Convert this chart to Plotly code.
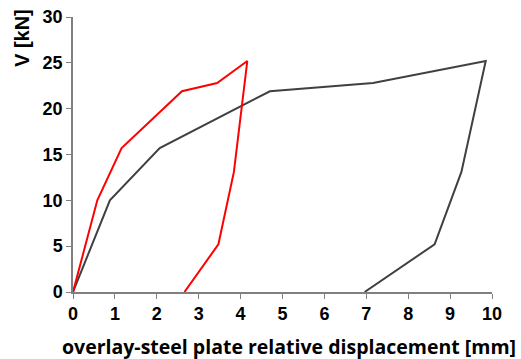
import plotly.graph_objects as go

red_x = [0, 0.58, 1.16, 2.60, 3.44, 4.16, 3.84, 3.47, 2.66]
red_y = [0, 10.0, 15.7, 21.9, 22.8, 25.2, 13.1, 5.2, 0]
gray_x = [0, 0.88, 2.07, 4.70, 7.16, 9.85, 9.27, 8.63, 6.96]
gray_y = [0, 10.0, 15.7, 21.9, 22.8, 25.2, 13.1, 5.2, 0]

x_ticks = list(range(0, 11))
y_ticks = [0, 5, 10, 15, 20, 25, 30]

fig = go.Figure()
fig.add_trace(go.Scatter(x=gray_x, y=gray_y, mode="lines",
                         line=dict(color="#404040", width=2), showlegend=False))
fig.add_trace(go.Scatter(x=red_x, y=red_y, mode="lines",
                         line=dict(color="#ff0000", width=2), showlegend=False))

tickfont = dict(family="Liberation Sans", size=18, color="#000000")
fig.update_layout(
    width=521, height=359,
    margin=dict(l=73, r=29, t=17, b=67),
    plot_bgcolor="white", paper_bgcolor="white",
    xaxis=dict(range=[0, 10], tickvals=x_ticks, ticktext=[f"<b>{v}</b>" for v in x_ticks],
               showgrid=False, zeroline=False, showline=True, linecolor="#808080", linewidth=1.5,
               ticks="outside", ticklen=5, tickcolor="#808080", tickfont=tickfont,
               automargin=False, ticklabeloverflow="allow"),
    yaxis=dict(range=[0, 30], tickvals=y_ticks, ticktext=[f"<b>{v}</b>" for v in y_ticks],
               showgrid=False, zeroline=False, showline=True, linecolor="#808080", linewidth=1.5,
               ticks="outside", ticklen=5, tickcolor="#808080", tickfont=tickfont,
               automargin=False, ticklabeloverflow="allow"),
    annotations=[
        dict(text="<b>overlay-steel plate relative displacement [mm]</b>", xref="paper", yref="paper",
             x=0.5, y=0, yshift=-54, xshift=6, xanchor="center", yanchor="middle", showarrow=False,
             font=dict(family="Open Sans", size=19.5, color="#000000")),
        dict(text="<b>V [kN]</b>", xref="paper", yref="paper", x=0, y=1, xshift=-51, yshift=-21,
             xanchor="center", yanchor="middle", textangle=-90, showarrow=False,
             font=dict(family="Liberation Sans", size=20, color="#000000")),
    ],
)
fig.write_html("out.html", config={"displayModeBar": False},
               post_script="document.body.style.margin='0';document.body.style.overflow='hidden';")
